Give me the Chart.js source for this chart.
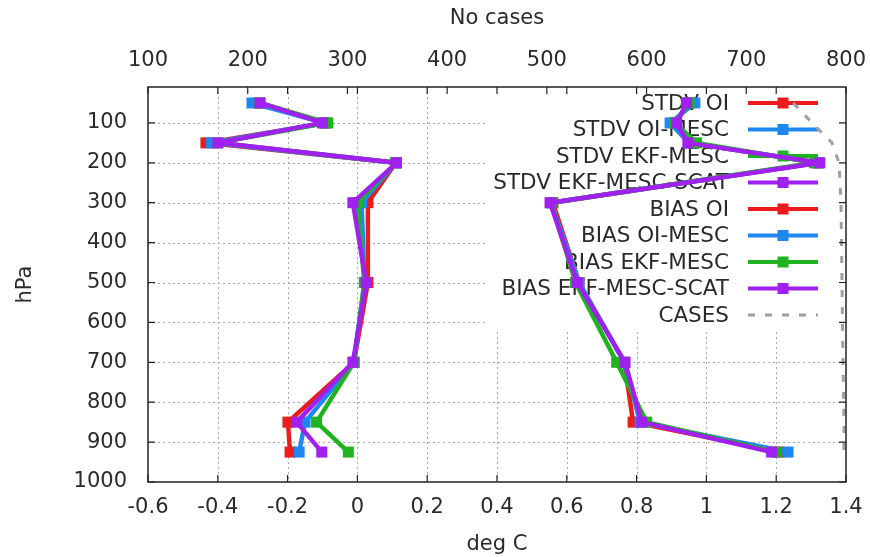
<!DOCTYPE html>
<html>
<head>
<meta charset="utf-8">
<script src="https://cdn.jsdelivr.net/npm/chart.js@4.4.1/dist/chart.umd.min.js"></script>
<style>
  html, body { margin: 0; padding: 0; background: #fff; }
  canvas { display: block; }
</style>
</head>
<body>
<canvas id="chart" width="870" height="557"></canvas>
<script>
// pressure levels (hPa)
const levels = [50, 100, 150, 200, 300, 500, 700, 850, 925];

// standard deviation, deg C
const stdvOI = [0.95, 0.91, 0.95, 1.32, 0.56, 0.635, 0.765, 0.79, 1.21];
const stdvOIMesc = [0.967, 0.896, 0.95, 1.32, 0.555, 0.635, 0.765, 0.81, 1.234];
const stdvEkfMesc = [0.95, 0.91, 0.972, 1.31, 0.555, 0.625, 0.743, 0.829, 1.2];
const stdvEkfMescScat = [0.943, 0.915, 0.947, 1.325, 0.552, 0.63, 0.767, 0.815, 1.187];

// bias, deg C
const biasOI = [-0.28, -0.09, -0.434, 0.11, 0.03, 0.03, -0.01, -0.199, -0.193];
const biasOIMesc = [-0.302, -0.095, -0.418, 0.11, 0.012, 0.02, -0.01, -0.15, -0.167];
const biasEkfMesc = [-0.28, -0.085, -0.40, 0.11, 0.0, 0.02, -0.01, -0.117, -0.026];
const biasEkfMescScat = [-0.279, -0.10, -0.40, 0.112, -0.013, 0.025, -0.013, -0.174, -0.102];

// number of cases (top axis)
const casesCount = [747, 766, 786, 793, 795, 796, 797, 798, 798];

const xTicks = [-0.6, -0.4, -0.2, 0, 0.2, 0.4, 0.6, 0.8, 1, 1.2, 1.4];
const x2Ticks = [100, 200, 300, 400, 500, 600, 700, 800];
const yTicks = [100, 200, 300, 400, 500, 600, 700, 800, 900, 1000];

const seriesNames = [
  "STDV OI", "STDV OI-MESC", "STDV EKF-MESC", "STDV EKF-MESC-SCAT",
  "BIAS OI", "BIAS OI-MESC", "BIAS EKF-MESC", "BIAS EKF-MESC-SCAT", "CASES"
];

const RED = "#ec1c1c", BLUE = "#1e88f0", GREEN = "#1fb41f", PURPLE = "#a020f0", GREY = "#a0a0a0";
const FONT = "DejaVu Sans";
const TXT = "#2a2a2a";

function toPoints(vals) {
  return levels.map((p, i) => ({ x: vals[i], y: p }));
}

function lineSet(label, vals, color) {
  return {
    label: label,
    data: toPoints(vals),
    borderColor: color,
    backgroundColor: color,
    borderWidth: 4.5,
    borderJoinStyle: "round",
    pointStyle: "rect",
    pointRadius: 7.8,
    pointHoverRadius: 7.8,
    pointBorderWidth: 0,
    pointBackgroundColor: color,
    tension: 0,
    xAxisID: "x",
  };
}

const datasets = [
  lineSet(seriesNames[0], stdvOI, RED),
  lineSet(seriesNames[1], stdvOIMesc, BLUE),
  lineSet(seriesNames[2], stdvEkfMesc, GREEN),
  lineSet(seriesNames[3], stdvEkfMescScat, PURPLE),
  lineSet(seriesNames[4], biasOI, RED),
  lineSet(seriesNames[5], biasOIMesc, BLUE),
  lineSet(seriesNames[6], biasEkfMesc, GREEN),
  lineSet(seriesNames[7], biasEkfMescScat, PURPLE),
  {
    label: seriesNames[8],
    data: levels.map((p, i) => ({ x: casesCount[i], y: p })),
    borderColor: GREY,
    borderWidth: 3,
    borderDash: [7, 10],
    pointRadius: 0,
    tension: 0,
    xAxisID: "x2",
  },
];
// gnuplot draws later plots on top
datasets.forEach((d, i) => { d.order = datasets.length - i; });

// grid, opaque key, border and inward ticks like gnuplot
const framePlugin = {
  id: "frame",
  beforeDatasetsDraw(chart) {
    const { ctx, chartArea: a, scales } = chart;
    ctx.save();
    ctx.strokeStyle = "#a8a8a8";
    ctx.lineWidth = 1;
    ctx.setLineDash([2, 3]);
    xTicks.slice(1, -1).forEach((v) => {
      const px = Math.round(scales.x.getPixelForValue(v)) + 0.5;
      ctx.beginPath(); ctx.moveTo(px, a.top); ctx.lineTo(px, a.bottom); ctx.stroke();
    });
    yTicks.slice(0, -1).forEach((v) => {
      const py = Math.round(scales.y.getPixelForValue(v)) + 0.5;
      ctx.beginPath(); ctx.moveTo(a.left, py); ctx.lineTo(a.right, py); ctx.stroke();
    });
    ctx.setLineDash([]);

    // key
    const rowH = 26.5;
    const textRight = a.right - 117;
    const sampleL = a.right - 98, sampleR = a.right - 28;
    ctx.font = "21.5px '" + FONT + "'";
    const sets = chart.data.datasets;
    let maxW = 0;
    sets.forEach((d) => { maxW = Math.max(maxW, ctx.measureText(d.label).width); });
    const boxTop = a.top + 1;
    const boxBottom = a.top + 16 + (sets.length - 1) * rowH + 14;
    ctx.fillStyle = "#fff";
    ctx.fillRect(textRight - maxW - 6, boxTop, a.right - (textRight - maxW - 6) - 1, boxBottom - boxTop);

    ctx.textAlign = "right";
    ctx.textBaseline = "middle";
    sets.forEach((d, i) => {
      const y = a.top + 16 + i * rowH;
      ctx.fillStyle = TXT;
      ctx.fillText(d.label, textRight, y + 1);
      ctx.strokeStyle = d.borderColor;
      ctx.lineWidth = d.xAxisID === "x2" ? 3 : 4;
      ctx.setLineDash(d.borderDash || []);
      ctx.beginPath(); ctx.moveTo(sampleL, y); ctx.lineTo(sampleR, y); ctx.stroke();
      ctx.setLineDash([]);
      if (d.pointRadius) {
        ctx.fillStyle = d.borderColor;
        ctx.fillRect((sampleL + sampleR) / 2 - 5.5, y - 5.5, 11, 11);
      }
    });
    ctx.restore();
  },
  afterDraw(chart) {
    const { ctx, chartArea: a, scales } = chart;
    const tl = 7;
    ctx.save();
    ctx.strokeStyle = "#222";
    ctx.lineWidth = 1.5;
    ctx.strokeRect(a.left, a.top, a.right - a.left, a.bottom - a.top);
    ctx.lineWidth = 1.2;
    ctx.beginPath();
    xTicks.forEach((v) => {
      const px = scales.x.getPixelForValue(v);
      ctx.moveTo(px, a.bottom); ctx.lineTo(px, a.bottom - tl);
      ctx.moveTo(px, a.top); ctx.lineTo(px, a.top + tl);
    });
    x2Ticks.forEach((v) => {
      const px = scales.x2.getPixelForValue(v);
      ctx.moveTo(px, a.top); ctx.lineTo(px, a.top + tl);
    });
    yTicks.forEach((v) => {
      const py = scales.y.getPixelForValue(v);
      ctx.moveTo(a.left, py); ctx.lineTo(a.left + tl, py);
      ctx.moveTo(a.right, py); ctx.lineTo(a.right - tl, py);
    });
    ctx.stroke();
    ctx.restore();
  },
};

const tickFont = { family: FONT, size: 21 };

function fitX(height) {
  return (s) => {
    s.height = height;
    s.paddingLeft = 0;
    s.paddingRight = 0;
  };
}

new Chart(document.getElementById("chart"), {
  type: "line",
  data: { datasets: datasets },
  options: {
    responsive: false,
    animation: false,
    layout: { padding: { right: 24, left: 0, top: 0, bottom: 0 } },
    plugins: { legend: { display: false }, tooltip: { enabled: false } },
    scales: {
      x: {
        type: "linear",
        position: "bottom",
        min: -0.6,
        max: 1.4,
        afterBuildTicks: (s) => { s.ticks = xTicks.map((v) => ({ value: v })); },
        afterFit: fitX(75),
        ticks: {
          font: tickFont, color: TXT, padding: 13, maxRotation: 0, autoSkip: false,
          callback: (v) => String(Math.round(v * 10) / 10),
        },
        grid: { display: false, drawTicks: false },
        border: { display: false },
        title: { display: true, text: "deg C", font: tickFont, color: TXT, padding: { top: 0, bottom: 0 } },
      },
      x2: {
        type: "linear",
        position: "top",
        min: 100,
        max: 800,
        afterBuildTicks: (s) => { s.ticks = x2Ticks.map((v) => ({ value: v })); },
        afterFit: fitX(87),
        ticks: { font: tickFont, color: TXT, padding: 14, maxRotation: 0, autoSkip: false, callback: (v) => String(v) },
        grid: { display: false, drawTicks: false },
        border: { display: false },
        title: { display: true, text: "No cases", font: tickFont, color: TXT, padding: { top: 6, bottom: 0 } },
      },
      y: {
        type: "linear",
        position: "left",
        reverse: true,
        min: 10,
        max: 1000,
        afterBuildTicks: (s) => { s.ticks = yTicks.map((v) => ({ value: v })); },
        afterFit: (s) => { s.width = 148; s.paddingTop = 0; s.paddingBottom = 0; },
        ticks: { font: tickFont, color: TXT, padding: 21, autoSkip: false, callback: (v) => String(v) },
        grid: { display: false, drawTicks: false },
        border: { display: false },
        title: { display: true, text: "hPa", font: tickFont, color: TXT, padding: { top: 13, bottom: 0 } },
      },
    },
  },
  plugins: [framePlugin],
});
</script>
</body>
</html>
